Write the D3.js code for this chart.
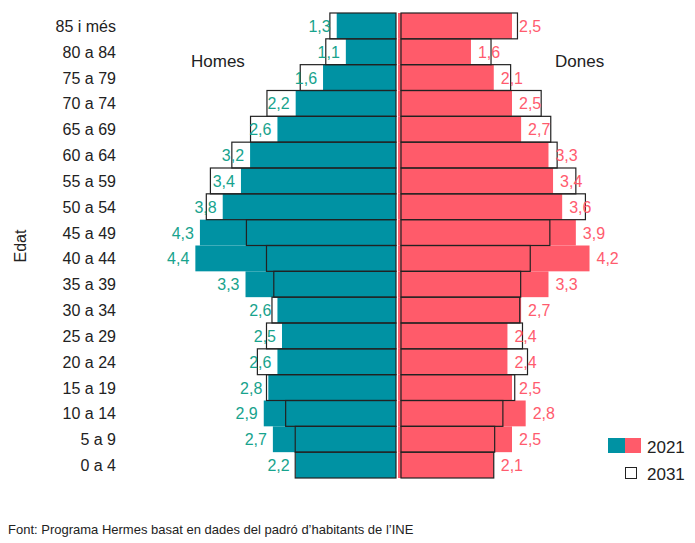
<!DOCTYPE html>
<html>
<head>
<meta charset="utf-8">
<script src="https://cdn.jsdelivr.net/npm/d3@7"></script>
<style>
  body { margin: 0; background: #fff; }
  text { font-family: "Liberation Sans", Arial, sans-serif; }
</style>
</head>
<body>
<div id="chart"></div>
<script>
const ages = ["85 i més", "80 a 84", "75 a 79", "70 a 74", "65 a 69", "60 a 64", "55 a 59", "50 a 54",
  "45 a 49", "40 a 44", "35 a 39", "30 a 34", "25 a 29", "20 a 24", "15 a 19", "10 a 14", "5 a 9", "0 a 4"];
const men2021 = [1.3, 1.1, 1.6, 2.2, 2.6, 3.2, 3.4, 3.8, 4.3, 4.4, 3.3, 2.6, 2.5, 2.6, 2.8, 2.9, 2.7, 2.2];
const women2021 = [2.5, 1.6, 2.1, 2.5, 2.7, 3.3, 3.4, 3.6, 3.9, 4.2, 3.3, 2.7, 2.4, 2.4, 2.5, 2.8, 2.5, 2.1];
const men2031 = [1.45, 1.54, 2.1, 2.83, 3.19, 3.6, 4.07, 4.16, 3.28, 2.84, 2.68, 2.72, 2.84, 3.04, 2.84, 2.42, 2.21, 2.21];
const women2031 = [2.62, 2.04, 2.47, 3.14, 3.35, 3.49, 3.9, 4.11, 3.33, 2.9, 2.69, 2.67, 2.73, 2.84, 2.56, 2.3, 2.12, 2.1];

const width = 695, height = 543;
const centerL = 396, centerR = 398;
const teal = "#0092a3", pink = "#ff5b6a";
const tealText = "#17a38d", pinkText = "#ff5b6e";

const svg = d3.select('#chart').append('svg')
  .attr('width', width).attr('height', height);

const y = d3.scaleBand().domain(ages).range([13, 478]).padding(0);
const xL = d3.scaleLinear().domain([0, 1]).range([centerL, centerL - 45.6]);
const xR = d3.scaleLinear().domain([0, 1]).range([centerR, centerR + 45.6]);
const fmt = v => String(v.toFixed(1)).replace('.', ',');

// 2031 white boxes behind
ages.forEach((a, i) => {
  svg.append('rect').attr('x', xL(men2031[i])).attr('y', y(a))
    .attr('width', xL(0) - xL(men2031[i])).attr('height', y.bandwidth()).attr('fill', '#fff');
  svg.append('rect').attr('x', xR(0) + 3).attr('y', y(a))
    .attr('width', xR(women2031[i]) - xR(0) - 3).attr('height', y.bandwidth()).attr('fill', '#fff');
});

// 2021 bars
svg.append('g').selectAll('rect').data(ages).join('rect')
  .attr('x', (d, i) => xL(men2021[i])).attr('y', d => y(d))
  .attr('width', (d, i) => xL(0) - xL(men2021[i])).attr('height', y.bandwidth())
  .attr('fill', teal);
svg.append('g').selectAll('rect').data(ages).join('rect')
  .attr('x', xR(0)).attr('y', d => y(d))
  .attr('width', (d, i) => xR(women2021[i]) - xR(0)).attr('height', y.bandwidth())
  .attr('fill', pink);

// 2031 outlines on top
svg.append('g').selectAll('rect').data(ages).join('rect')
  .attr('x', (d, i) => xL(men2031[i])).attr('y', d => y(d))
  .attr('width', (d, i) => xL(0) - xL(men2031[i])).attr('height', y.bandwidth())
  .attr('fill', 'none').attr('stroke', '#222').attr('stroke-width', 1.2);
svg.append('g').selectAll('rect').data(ages).join('rect')
  .attr('x', xR(0) + 3).attr('y', d => y(d))
  .attr('width', (d, i) => xR(women2031[i]) - xR(0) - 3).attr('height', y.bandwidth())
  .attr('fill', 'none').attr('stroke', '#222').attr('stroke-width', 1.2);

// value labels
svg.append('g').selectAll('text').data(ages).join('text')
  .attr('x', (d, i) => xL(men2021[i]) - 6).attr('y', d => y(d) + y.bandwidth() / 2 + 6)
  .attr('text-anchor', 'end').attr('font-size', 16).attr('fill', tealText)
  .text((d, i) => fmt(men2021[i]));
svg.append('g').selectAll('text').data(ages).join('text')
  .attr('x', (d, i) => xR(women2021[i]) + 7).attr('y', d => y(d) + y.bandwidth() / 2 + 6)
  .attr('font-size', 16).attr('fill', pinkText)
  .text((d, i) => fmt(women2021[i]));

// age axis labels
svg.append('g').selectAll('text').data(ages).join('text')
  .attr('x', 116).attr('y', d => y(d) + y.bandwidth() / 2 + 6)
  .attr('text-anchor', 'end').attr('font-size', 16).attr('fill', '#222')
  .text(d => d);

svg.append('text').attr('transform', 'translate(26,246) rotate(-90)')
  .attr('text-anchor', 'middle').attr('font-size', 16).attr('fill', '#222').text('Edat');

svg.append('text').attr('x', 191).attr('y', 67).attr('font-size', 17).attr('fill', '#222').text('Homes');
svg.append('text').attr('x', 555).attr('y', 67).attr('font-size', 17).attr('fill', '#222').text('Dones');

// legend
svg.append('rect').attr('x', 608).attr('y', 438).attr('width', 17).attr('height', 15).attr('fill', teal);
svg.append('rect').attr('x', 625).attr('y', 438).attr('width', 16).attr('height', 15).attr('fill', pink);
svg.append('text').attr('x', 647).attr('y', 453).attr('font-size', 17).attr('fill', '#222').text('2021');
svg.append('rect').attr('x', 625.5).attr('y', 467.5).attr('width', 11).attr('height', 11)
  .attr('fill', '#fff').attr('stroke', '#222');
svg.append('text').attr('x', 647).attr('y', 480).attr('font-size', 17).attr('fill', '#222').text('2031');

svg.append('text').attr('x', 8).attr('y', 534).attr('font-size', 13).attr('fill', '#222')
  .text("Font: Programa Hermes basat en dades del padró d’habitants de l’INE");
</script>
</body>
</html>
